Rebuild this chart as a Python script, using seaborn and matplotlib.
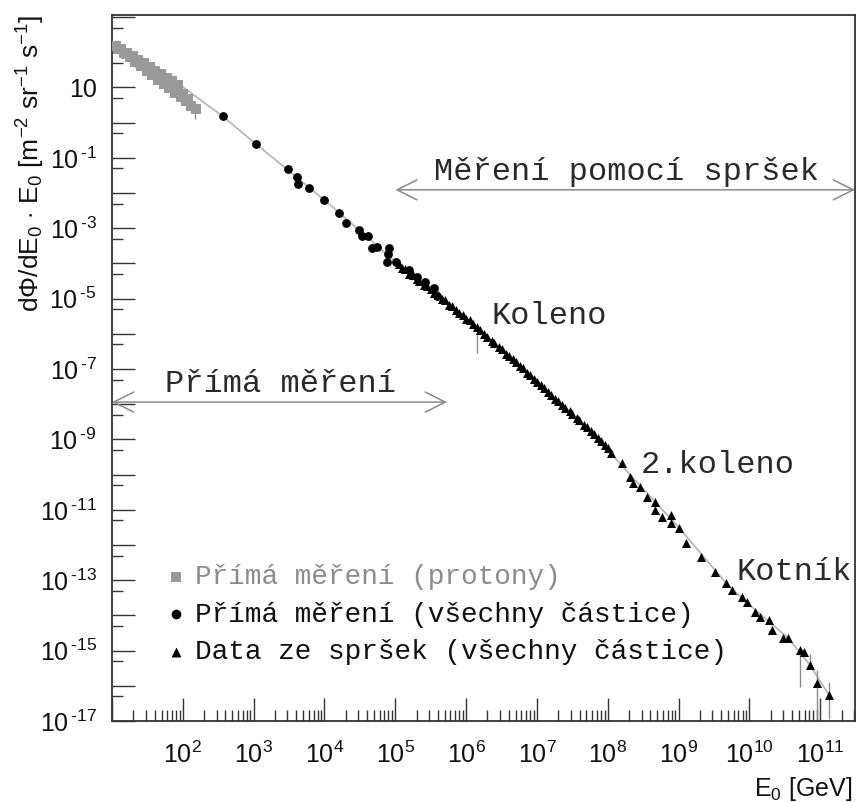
import numpy as np
import pandas as pd
import matplotlib
matplotlib.use("Agg")
import matplotlib.pyplot as plt
import seaborn as sns
from matplotlib.ticker import FixedLocator, FuncFormatter, NullFormatter

# ---- data: log10(E0 / GeV) and log10(dPhi/dE0 * E0) ----
proton_logE = [1.05, 1.09, 1.13, 1.17, 1.20, 1.21, 1.25, 1.29, 1.33, 1.37, 1.40,
               1.41, 1.45, 1.49, 1.53, 1.57, 1.60, 1.61, 1.65, 1.69, 1.73, 1.75,
               1.77, 1.81, 1.85, 1.89, 1.90, 1.93, 1.97, 2.00, 2.05, 2.08, 2.12, 2.18]
proton_logF = [2.19, 2.10, 2.09, 1.97, 1.95, 1.99, 1.85, 1.89, 1.72, 1.78, 1.70,
               1.60, 1.68, 1.47, 1.58, 1.35, 1.40, 1.48, 1.22, 1.37, 1.10, 1.15,
               1.27, 0.97, 1.17, 0.85, 0.95, 1.07, 0.72, 0.80, 0.60, 0.66, 0.48, 0.38]

direct_logE = [2.57, 3.04, 3.48, 3.61, 3.63, 3.78, 4.00, 4.21, 4.31, 4.49, 4.53,
               4.61, 4.67, 4.74, 4.91, 4.90, 4.88, 5.01, 5.19, 5.31, 5.42, 5.54, 5.59]
direct_logF = [0.19, -0.62, -1.33, -1.55, -1.75, -1.85, -2.20, -2.58, -2.84, -3.05, -3.22,
               -3.22, -3.57, -3.53, -3.57, -3.73, -3.95, -3.95, -4.19, -4.38, -4.53, -4.70, -4.93]

shower_logE = [5.05, 5.10, 5.14, 5.20, 5.25, 5.30, 5.34, 5.40, 5.45, 5.50, 5.55, 5.60,
               5.66, 5.70, 5.76, 5.80, 5.86, 5.90, 5.95, 6.00, 6.05, 6.10, 6.16, 6.20,
               6.25, 6.30, 6.36, 6.40, 6.46, 6.50, 6.56, 6.60, 6.66, 6.70, 6.76, 6.80,
               6.86, 6.90, 6.96, 7.00, 7.06, 7.10, 7.16, 7.20, 7.26, 7.30, 7.36, 7.40,
               7.46, 7.50, 7.56, 7.60, 7.66, 7.70, 7.76, 7.80, 7.86, 7.90, 7.96, 8.00,
               8.04, 8.20, 8.32, 8.36, 8.45, 8.55, 8.67, 8.67, 8.77, 8.89, 8.89, 9.01,
               9.10, 9.32, 9.52, 9.67, 9.75, 9.90, 9.97, 10.08, 10.15, 10.27, 10.32,
               10.48, 10.55, 10.71, 10.77, 10.86, 10.96, 11.12]
shower_logF = [-4.02, -4.14, -4.17, -4.30, -4.33, -4.45, -4.50, -4.60, -4.64, -4.73, -4.85, -4.90,
               -5.00, -5.05, -5.18, -5.22, -5.33, -5.40, -5.46, -5.58, -5.62, -5.72, -5.82, -5.88,
               -6.00, -6.08, -6.20, -6.26, -6.38, -6.44, -6.56, -6.63, -6.72, -6.80, -6.92, -6.98,
               -7.10, -7.17, -7.27, -7.36, -7.46, -7.55, -7.64, -7.73, -7.84, -7.90, -8.02, -8.10,
               -8.20, -8.28, -8.40, -8.46, -8.58, -8.66, -8.77, -8.85, -8.97, -9.04, -9.15, -9.25,
               -9.39, -9.68, -10.06, -10.25, -10.34, -10.63, -10.77, -11.01, -11.20, -11.15, -11.38, -11.53,
               -11.95, -12.33, -12.76, -13.09, -13.28, -13.47, -13.61, -13.89, -14.04, -14.13, -14.41,
               -14.65, -14.65, -14.98, -15.03, -15.41, -15.93, -16.26]

# error bars: log10 E, lower and upper end
err_logE = [2.17, 6.15, 5.59, 10.71, 10.96, 11.12, 10.86, 10.96, 11.12, 10.27]
err_lo = [0.10, -6.55, -5.05, -16.03, -16.95, -16.95, -15.41, -15.93, -16.26, -14.55]
err_hi = [0.38, -5.82, -4.93, -14.98, -15.93, -16.26, -15.10, -15.55, -15.90, -14.41]

# broken power-law fit through all data
fit_logE = [1.0, 1.96, 2.57, 3.04, 4.0, 5.0, 6.15, 7.0, 8.04, 9.0, 9.7, 10.0, 10.55, 10.85, 11.15]
fit_logF = [2.3, 1.07, 0.17, -0.62, -2.2, -3.95, -5.8, -7.35, -9.4, -11.5, -13.15, -13.7, -14.65, -15.4, -16.35]

legend_labels = ["Přímá měření (protony)",
                 "Přímá měření (všechny částice)",
                 "Data ze spršek (všechny částice)"]

# ---- styling ----
sns.set_style("white")
plt.rcParams["font.family"] = ["Liberation Sans", "DejaVu Sans"]
plt.rcParams["mathtext.fontset"] = "custom"
plt.rcParams["mathtext.rm"] = "Liberation Sans"
plt.rcParams["mathtext.it"] = "Liberation Sans:italic"
plt.rcParams["mathtext.bf"] = "Liberation Sans:bold"

mono = dict(family=["Liberation Mono", "DejaVu Sans Mono"])
GREY = "#999999"

fig = plt.figure(figsize=(8.57, 8.02), dpi=100)
ax = fig.add_axes([112 / 857, 1 - 721 / 802, 743 / 857, 706 / 802])
ax.set_xscale("log")
ax.set_yscale("log")

pow10 = lambda v: np.power(10.0, np.asarray(v, dtype=float))

fit = pd.DataFrame({"E": pow10(fit_logE), "F": pow10(fit_logF)})
sns.lineplot(data=fit, x="E", y="F", ax=ax, color="#b8b8b8", lw=1.3, sort=False,
             zorder=1, legend=False)

ax.vlines(pow10(err_logE), pow10(err_lo), pow10(err_hi), colors="#8a8a8a", lw=1.0, zorder=2)

protons = pd.DataFrame({"E": pow10(proton_logE), "F": pow10(proton_logF)})
direct = pd.DataFrame({"E": pow10(direct_logE), "F": pow10(direct_logF)})
shower = pd.DataFrame({"E": pow10(shower_logE), "F": pow10(shower_logF)})

sns.scatterplot(data=protons, x="E", y="F", ax=ax, marker="s", s=42, color=GREY,
                linewidth=0, label=legend_labels[0], zorder=3)
sns.scatterplot(data=direct, x="E", y="F", ax=ax, marker="o", s=40, color="black",
                linewidth=0, label=legend_labels[1], zorder=4)
sns.scatterplot(data=shower, x="E", y="F", ax=ax, marker="^", s=42, color="black",
                linewidth=0, label=legend_labels[2], zorder=4)

ax.set_xlim(10, 10 ** 11.49)
ax.set_ylim(1e-17, 10 ** 3.057)

# ---- ticks ----
xmaj = [10.0 ** n for n in range(1, 12)]
xmin = [k * 10.0 ** n for n in range(1, 12) for k in range(2, 10)]
ax.xaxis.set_major_locator(FixedLocator(xmaj))
ax.xaxis.set_minor_locator(FixedLocator(xmin))
ax.xaxis.set_major_formatter(FuncFormatter(
    lambda v, p: "" if round(np.log10(v)) < 2 else r"$10^{%d}$" % round(np.log10(v))))
ax.xaxis.set_minor_formatter(NullFormatter())

ymaj = [10.0 ** n for n in range(-17, 4)]
ymin = [5 * 10.0 ** n for n in range(-18, 3)]
ax.yaxis.set_major_locator(FixedLocator(ymaj))
ax.yaxis.set_minor_locator(FixedLocator(ymin))


def ylab(v, p):
    n = int(round(np.log10(v)))
    if n % 2 == 0 or n > 1:
        return ""
    if n == 1:
        return "10"
    return r"$10^{\,\text{-%d}}$" % (-n)


ax.yaxis.set_major_formatter(FuncFormatter(ylab))
ax.yaxis.set_minor_formatter(NullFormatter())

ax.tick_params(which="both", direction="in", color="#333333", labelcolor="#111111",
               width=1.0, bottom=True, left=True, top=False, right=False, labelsize=18)
ax.tick_params(which="major", length=16.5)
ax.tick_params(which="minor", length=8)
ax.tick_params(axis="x", which="major", pad=15)
ax.tick_params(axis="y", which="major", pad=11)

for sp in ax.spines.values():
    sp.set_color("#333333")
    sp.set_linewidth(1.3)

# ---- axis titles ----
ax.set_ylabel(r"d$\Phi$/dE$_0$ $\cdot$ E$_0$ [m$^{-2}$ sr$^{-1}$ s$^{-1}$]",
              fontsize=19, loc="top", color="#111111")
ax.yaxis.set_label_coords(-0.088, 1.0)
ax.set_xlabel(r"E$_0$ [GeV]", fontsize=18, loc="right", color="#111111")
ax.xaxis.set_label_coords(0.997, -0.077)

# ---- annotations ----
arrow_kw = dict(arrowstyle="<->,head_length=0.6,head_width=0.3", color="#8a8a8a",
                lw=1.1, shrinkA=0, shrinkB=0, mutation_scale=24)
ax.annotate("", xy=(10 ** 11.49, 10 ** -1.91), xytext=(10 ** 5.0, 10 ** -1.91),
            arrowprops=arrow_kw)
ax.annotate("", xy=(10 ** 5.73, 10 ** -7.94), xytext=(10 ** 1.0, 10 ** -7.94),
            arrowprops=arrow_kw)

txt_kw = dict(fontsize=23, color="#2a2a2a", va="center", ha="left", **mono)
ax.text(10 ** 5.54, 10 ** -1.40, "Měření pomocí spršek", **txt_kw)
ax.text(10 ** 1.75, 10 ** -7.43, "Přímá měření", **txt_kw)
ax.text(10 ** 6.355, 10 ** -5.49, "Koleno", **txt_kw)
ax.text(10 ** 8.47, 10 ** -9.73, "2.koleno", **txt_kw)
ax.text(10 ** 9.82, 10 ** -12.77, "Kotník", **txt_kw)

# ---- legend ----
leg = ax.legend(loc="upper left", bbox_to_anchor=((166 - 112) / 743, (721 - 564) / 706),
                frameon=False, borderpad=0, borderaxespad=0, handlelength=0.7,
                handletextpad=0.35, labelspacing=0.42, markerscale=1.1,
                prop=dict(size=20, family=["Liberation Mono", "DejaVu Sans Mono"]))
for t, c in zip(leg.get_texts(), ["#8c8c8c", "#111111", "#111111"]):
    t.set_color(c)

fig.savefig("out.png", dpi=100)
